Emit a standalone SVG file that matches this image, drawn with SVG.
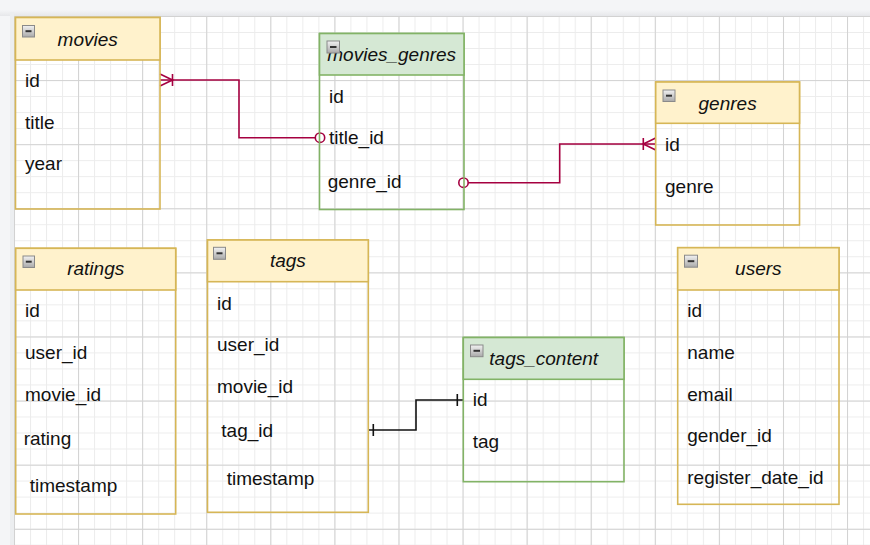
<svg xmlns="http://www.w3.org/2000/svg" width="870" height="545" viewBox="0 0 870 545">
<defs>
<pattern id="minor" patternUnits="userSpaceOnUse" x="14" y="16" width="16.02" height="16.02">
<path d="M0.5,0 V16.02 M0,0.5 H16.02" fill="none" stroke="#ececec" stroke-width="1"/>
</pattern>
<pattern id="major" patternUnits="userSpaceOnUse" x="14" y="16" width="64.08" height="64.1">
<path d="M0.5,0 V64.1 M0,0.5 H64.08" fill="none" stroke="#d2d2d2" stroke-width="1"/>
</pattern>
<linearGradient id="icon" x1="0" y1="0" x2="0" y2="1">
<stop offset="0" stop-color="#f2f2f2"/>
<stop offset="1" stop-color="#a9a9a9"/>
</linearGradient>
<linearGradient id="shadowTop" x1="0" y1="0" x2="0" y2="1">
<stop offset="0" stop-color="#f4f5f7"/>
<stop offset="1" stop-color="#e6e7ea"/>
</linearGradient>
</defs>
<style>
.hdrY{fill:#fff2cc;stroke:#d6b656;stroke-width:1.6}
.boxY{fill:none;stroke:#d6b656;stroke-width:1.6}
.hdrG{fill:#d5e8d4;stroke:#82b366;stroke-width:1.6}
.boxG{fill:none;stroke:#82b366;stroke-width:1.6}
.ic{fill:url(#icon);stroke:#8a8a8a;stroke-width:1}
.minus{stroke:#333;stroke-width:2}
.title{font-family:"Liberation Sans",Arial,sans-serif;font-size:19px;font-style:italic;fill:#111;text-anchor:middle}
.row{font-family:"Liberation Sans",Arial,sans-serif;font-size:19px;fill:#111}
.rel{fill:none;stroke:#a50040;stroke-width:1.6}
.relB{fill:none;stroke:#111;stroke-width:1.6}
</style>
<rect x="0" y="0" width="870" height="545" fill="#f4f5f7"/>
<rect x="0" y="10" width="870" height="6" fill="url(#shadowTop)"/>
<rect x="10" y="12" width="4" height="533" fill="#eceef0"/>
<rect x="14" y="16" width="856" height="529" fill="#ffffff"/>
<rect x="14" y="16" width="856" height="529" fill="url(#minor)"/>
<rect x="14" y="16" width="856" height="529" fill="url(#major)"/>

<g id="connectors">
<path class="rel" d="M160,80 H239 V137.7 H315"/>
<path class="rel" d="M160,74 L172.5,80 L160,86 M172.5,74 V86"/>
<circle cx="320" cy="137.7" r="4.7" fill="#fff" stroke="#a50040" stroke-width="1.6"/>
<path class="rel" d="M468.3,182.7 H559.7 V144 H655.7"/>
<path class="rel" d="M655.7,138 L643.3,144 L655.7,150 M643.3,138 V150"/>
<circle cx="463.5" cy="182.7" r="4.7" fill="#fff" stroke="#a50040" stroke-width="1.6"/>
<path class="relB" d="M368,430 H416 V400 H463.3"/>
<path class="relB" d="M373.3,424 V436 M457.3,394 V406"/>
</g>

<g id="movies">
<rect class="boxY" x="15.5" y="17.5" width="144.5" height="191.5"/>
<rect class="hdrY" x="15.5" y="17.5" width="144.5" height="42.5"/>
<rect class="ic" x="22.5" y="25.5" width="12" height="11.5"/>
<path class="minus" d="M25.5,31.2 H31.5"/>
<text class="title" x="87.7" y="46">movies</text>
<text class="row" x="25" y="87">id</text>
<text class="row" x="25" y="129">title</text>
<text class="row" x="25" y="170">year</text>
</g>

<g id="movies_genres">
<rect class="boxG" x="319.5" y="33.5" width="144.5" height="176"/>
<rect class="hdrG" x="319.5" y="33.5" width="144.5" height="41.5"/>
<text class="title" x="391.7" y="61">movies_genres</text>
<rect class="ic" x="327" y="41" width="12.5" height="12"/>
<path class="minus" d="M330,47 H336.5"/>
<text class="row" x="329" y="103">id</text>
<text class="row" x="329" y="144">title_id</text>
<text class="row" x="327.7" y="188">genre_id</text>
</g>

<g id="genres">
<rect class="boxG" x="655.7" y="82" width="143.8" height="143" style="stroke:#d6b656"/>
<rect class="hdrY" x="655.7" y="82" width="143.8" height="41.3"/>
<rect class="ic" x="663" y="90" width="12" height="11.5"/>
<path class="minus" d="M666,95.7 H672"/>
<text class="title" x="727.6" y="110">genres</text>
<text class="row" x="665" y="151">id</text>
<text class="row" x="665" y="193">genre</text>
</g>

<g id="ratings">
<rect class="boxY" x="15.7" y="248.3" width="160" height="265.7"/>
<rect class="hdrY" x="15.7" y="248.3" width="160" height="41.7"/>
<rect class="ic" x="23" y="256" width="11.5" height="11.5"/>
<path class="minus" d="M25.8,261.7 H31.7"/>
<text class="title" x="95.7" y="275">ratings</text>
<text class="row" x="25" y="317">id</text>
<text class="row" x="25" y="359">user_id</text>
<text class="row" x="25" y="401">movie_id</text>
<text class="row" x="23.7" y="445">rating</text>
<text class="row" x="29.7" y="492">timestamp</text>
</g>

<g id="tags">
<rect class="boxY" x="207.5" y="240" width="160.8" height="272.3"/>
<rect class="hdrY" x="207.5" y="240" width="160.8" height="41.7"/>
<rect class="ic" x="213.5" y="247.3" width="12" height="12"/>
<path class="minus" d="M216.5,253.3 H222.5"/>
<text class="title" x="287.9" y="267">tags</text>
<text class="row" x="217" y="310">id</text>
<text class="row" x="217" y="351">user_id</text>
<text class="row" x="217" y="393">movie_id</text>
<text class="row" x="221.3" y="437">tag_id</text>
<text class="row" x="226.7" y="485">timestamp</text>
</g>

<g id="tags_content">
<rect class="boxG" x="463.3" y="337.5" width="160.7" height="144.2"/>
<rect class="hdrG" x="463.3" y="337.5" width="160.7" height="41.8"/>
<rect class="ic" x="470.5" y="345" width="12.5" height="11.7"/>
<path class="minus" d="M473.5,350.8 H480"/>
<text class="title" x="543.7" y="365">tags_content</text>
<text class="row" x="472.7" y="406">id</text>
<text class="row" x="472.7" y="448">tag</text>
</g>

<g id="users">
<rect class="boxY" x="677.7" y="247.7" width="161.3" height="256.6"/>
<rect class="hdrY" x="677.7" y="247.7" width="161.3" height="42.3"/>
<rect class="ic" x="684.5" y="255.2" width="13" height="12"/>
<path class="minus" d="M687.7,261.2 H694.3"/>
<text class="title" x="758.3" y="275">users</text>
<text class="row" x="687.3" y="317">id</text>
<text class="row" x="687.3" y="359">name</text>
<text class="row" x="687.3" y="401">email</text>
<text class="row" x="687.3" y="442">gender_id</text>
<text class="row" x="687.3" y="484">register_date_id</text>
</g>
</svg>
